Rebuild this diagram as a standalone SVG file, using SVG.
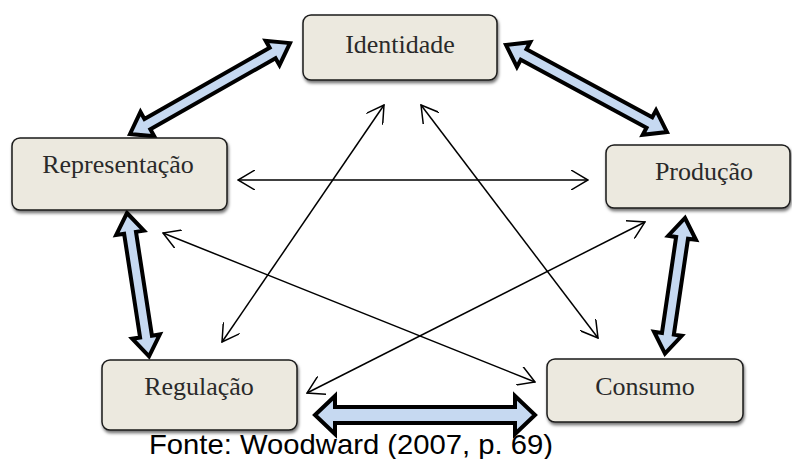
<svg xmlns="http://www.w3.org/2000/svg" width="792" height="459" viewBox="0 0 792 459">
<style>
.box{fill:#ece9df;stroke:#1a1a1a;stroke-width:1.5;filter:url(#sh)}
.lbl{font-family:"Liberation Serif","Times New Roman",serif;font-size:26px;fill:#2a2a2a;text-anchor:middle}
.thin{stroke:#000;stroke-width:1.5;fill:none;marker-start:url(#v);marker-end:url(#v)}
.blk{fill:#c6d9f1;stroke:#000;stroke-width:4;stroke-linejoin:miter}
.cap{font-family:"Liberation Sans",Arial,sans-serif;font-size:28px;fill:#000}
</style>
<defs>
<filter id="sh" x="-10%" y="-10%" width="125%" height="135%">
<feDropShadow dx="1" dy="2.5" stdDeviation="1.5" flood-color="#000" flood-opacity="0.55"/>
</filter>
<marker id="v" markerUnits="userSpaceOnUse" viewBox="0 0 18 20" refX="17" refY="10" markerWidth="18" markerHeight="20" orient="auto-start-reverse">
<path d="M0,0 L17,10 L0,20" fill="none" stroke="#000" stroke-width="1.5"/>
</marker>
</defs>
<rect width="792" height="459" fill="#fff"/>
<g id="connectors">
<line class="thin" x1="238" y1="180" x2="588" y2="180"/>
<line class="thin" x1="384" y1="105" x2="222" y2="342"/>
<line class="thin" x1="421" y1="105" x2="598" y2="338"/>
<line class="thin" x1="163" y1="233" x2="535" y2="382"/>
<line class="thin" x1="645" y1="222" x2="307" y2="393"/>
<polygon class="blk" transform="translate(130,134) rotate(-29.6)" points="0,0 20,-14 20,-6 164,-6 164,-14 184,0 164,14 164,6 20,6 20,14"/>
<polygon class="blk" transform="translate(506,45) rotate(28.4)" points="0,0 20,-14 20,-6 163,-6 163,-14 183,0 163,14 163,6 20,6 20,14"/>
<polygon class="blk" transform="translate(127,213) rotate(81.25)" points="0,0 20,-14 20,-6 125,-6 125,-14 145,0 125,14 125,6 20,6 20,14"/>
<polygon class="blk" transform="translate(685,218) rotate(98.4)" points="0,0 20,-14 20,-6 117,-6 117,-14 137,0 117,14 117,6 20,6 20,14"/>
<polygon class="blk" transform="translate(315,415)" points="0,0 20,-19 20,-8 200,-8 200,-19 220,0 200,19 200,8 20,8 20,19"/>
</g>
<g id="identidade">
<rect class="box" x="303" y="15" width="194" height="65" rx="8"/>
<text class="lbl" x="400" y="53">Identidade</text>
</g>
<g id="representacao">
<rect class="box" x="12" y="138" width="215" height="72" rx="8"/>
<text class="lbl" x="118" y="173">Representação</text>
</g>
<g id="producao">
<rect class="box" x="606" y="145" width="184" height="63" rx="8"/>
<text class="lbl" x="704" y="180">Produção</text>
</g>
<g id="regulacao">
<rect class="box" x="102" y="360" width="195" height="70" rx="8"/>
<text class="lbl" x="199" y="395">Regulação</text>
</g>
<g id="consumo">
<rect class="box" x="547" y="359" width="196" height="63" rx="8"/>
<text class="lbl" x="645" y="395">Consumo</text>
</g>
<text class="cap" x="149" y="454" textLength="404" lengthAdjust="spacingAndGlyphs">Fonte: Woodward (2007, p. 69)</text>
</svg>
